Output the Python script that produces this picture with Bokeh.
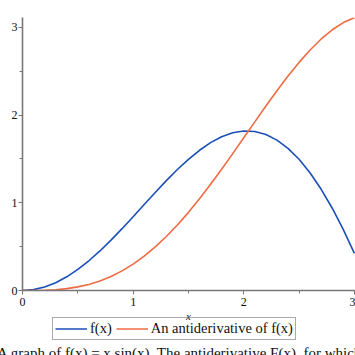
from bokeh.plotting import figure
from bokeh.layouts import column
from bokeh.models import Range1d, Legend, LegendItem, Label, FixedTicker, Div
from bokeh.embed import file_html
from bokeh.resources import INLINE

xs = [0.0, 0.1, 0.2, 0.3, 0.4, 0.5, 0.6, 0.7, 0.8, 0.9, 1.0, 1.1, 1.2, 1.3, 1.4, 1.5,
      1.6, 1.7, 1.8, 1.9, 2.0, 2.1, 2.2, 2.3, 2.4, 2.5, 2.6, 2.7, 2.8, 2.9, 3.0]
f_vals = [0.0, 0.010, 0.040, 0.089, 0.156, 0.240, 0.339, 0.451, 0.574, 0.705, 0.841,
          0.980, 1.118, 1.253, 1.380, 1.496, 1.599, 1.686, 1.753, 1.798, 1.819, 1.813,
          1.779, 1.715, 1.621, 1.496, 1.340, 1.154, 0.938, 0.694, 0.423]
F_vals = [0.0, 0.0003, 0.003, 0.009, 0.021, 0.041, 0.069, 0.109, 0.160, 0.224, 0.301,
          0.392, 0.497, 0.616, 0.747, 0.891, 1.046, 1.211, 1.383, 1.561, 1.742, 1.923,
          2.103, 2.278, 2.445, 2.601, 2.743, 2.868, 2.973, 3.055, 3.111]
x_ticks = [0, 1, 2, 3]
y_ticks = [0, 1, 2, 3]
minor_ticks = [0.5, 1.5, 2.5]
x_title = "x"
label_f = "f(x)"
label_F = "An antiderivative of f(x)"
caption = "A graph of f(x) = x sin(x). The antiderivative F(x), for which F(0) = 0"

SERIF = "Liberation Serif"
AXIS = "#777777"
BLUE = "#1a4fb8"
ORANGE = "#f06a42"
TXT = "#111111"

p = figure(width=355, height=310, output_backend="svg", toolbar_location=None,
           x_range=Range1d(0, 3.01), y_range=Range1d(0, 3.113),
           min_border_left=22, min_border_right=0, min_border_top=17,
           min_border_bottom=20, background_fill_color=None,
           border_fill_color="white", outline_line_color=None)
p.grid.visible = False

p.line(xs, f_vals, line_color=BLUE, line_width=1.6)
p.line(xs, F_vals, line_color=ORANGE, line_width=1.6)

for ax in (p.xaxis[0], p.yaxis[0]):
    ax.axis_line_color = AXIS
    ax.axis_line_width = 1.6
    ax.major_tick_line_color = AXIS
    ax.minor_tick_line_color = AXIS
    ax.major_tick_in = 0
    ax.major_tick_out = 4
    ax.minor_tick_in = 0
    ax.minor_tick_out = 3
    ax.major_label_text_font = SERIF
    ax.major_label_text_font_size = "12px"
    ax.major_label_text_color = TXT
    ax.major_label_standoff = 1
p.xaxis.major_label_standoff = 3

p.xaxis.ticker = FixedTicker(ticks=x_ticks, minor_ticks=minor_ticks)
p.yaxis.ticker = FixedTicker(ticks=y_ticks, minor_ticks=minor_ticks)

# lower strip: axis title and legend (its frame is aligned with p's frame,
# which starts 22 px from the left edge)
p2 = figure(width=355, height=31, output_backend="svg", toolbar_location=None,
            x_range=Range1d(0, 1), y_range=Range1d(0, 1),
            x_axis_location=None, y_axis_location=None,
            min_border=0, outline_line_color=None,
            background_fill_color=None, border_fill_color="white")
p2.grid.visible = False
d1 = p2.line([-1, -1], [-1, -1], line_color=BLUE, line_width=1.6)
d2 = p2.line([-1, -1], [-1, -1], line_color=ORANGE, line_width=1.6)

xl = Label(x=166, y=32, x_units="screen", y_units="screen", text=x_title,
           text_font=SERIF, text_font_style="italic", text_font_size="11px",
           text_color=TXT, text_baseline="top", text_align="center")
p2.add_layout(xl)

legend = Legend(items=[LegendItem(label=label_f, renderers=[d1]),
                       LegendItem(label=label_F, renderers=[d2])],
                orientation="horizontal", location=(30, 1),
                label_text_font=SERIF, label_text_font_size="14.5px",
                label_text_color=TXT,
                border_line_color="#555555", border_line_width=1.5,
                background_fill_alpha=0,
                padding=2, spacing=4, margin=0,
                glyph_width=32, glyph_height=13, label_standoff=3,
                label_height=13)
p2.add_layout(legend, "center")

cap = Div(text=('<div style="margin-left:-3px; padding-top:5px; white-space:nowrap; '
                "font-family:'Liberation Serif'; font-size:15px; line-height:15px; "
                'color:#111111;">' + caption + '</div>'),
          width=355, height=14, margin=0)

open("out.html", "w").write(file_html(column(p, p2, cap, spacing=0), INLINE))
